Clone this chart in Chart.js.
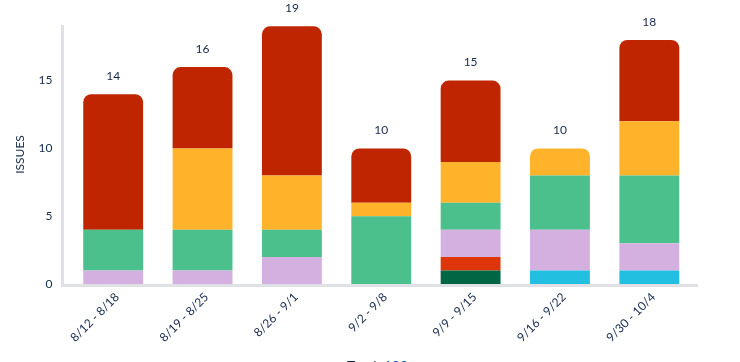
<!DOCTYPE html>
<html>
<head>
<meta charset="utf-8">
<script src="https://cdn.jsdelivr.net/npm/chart.js@4/dist/chart.umd.min.js"></script>
<style>
  html, body { margin: 0; padding: 0; background: #ffffff; }
  #wrap { width: 740px; height: 362px; position: relative; }
</style>
</head>
<body>
<div id="wrap"><canvas id="c" width="740" height="362"></canvas></div>
<script>
const categories = ['8/12 - 8/18', '8/19 - 8/25', '8/26 - 9/1', '9/2 - 9/8', '9/9 - 9/15', '9/16 - 9/22', '9/30 - 10/4'];
const seriesDarkGreen = [0, 0, 0, 0, 1, 0, 0];
const seriesCyan      = [0, 0, 0, 0, 0, 1, 1];
const seriesOrangeRed = [0, 0, 0, 0, 1, 0, 0];
const seriesLavender  = [1, 1, 2, 0, 2, 3, 2];
const seriesGreen     = [3, 3, 2, 5, 2, 4, 5];
const seriesYellow    = [0, 6, 4, 1, 3, 2, 4];
const seriesDarkRed   = [10, 6, 11, 4, 6, 0, 6];
const yTicks = [0, 5, 10, 15];
const yTitle = 'ISSUES';
const totalLabel = 'Total: ';

const FONT = 'Lato, "Noto Sans", sans-serif';
const TEXT = '#172B4D';

const seriesList = [
  { label: 'A', data: seriesDarkGreen, color: '#006644' },
  { label: 'B', data: seriesCyan, color: '#23BFE0' },
  { label: 'C', data: seriesOrangeRed, color: '#DE350B' },
  { label: 'D', data: seriesLavender, color: '#D4B0E1' },
  { label: 'E', data: seriesGreen, color: '#4BBF8C' },
  { label: 'F', data: seriesYellow, color: '#FFB32A' },
  { label: 'G', data: seriesDarkRed, color: '#BF2600' }
];

function isTop(dsIndex, idx) {
  if (!seriesList[dsIndex].data[idx]) return false;
  for (let k = dsIndex + 1; k < seriesList.length; k++) {
    if (seriesList[k].data[idx]) return false;
  }
  return true;
}

const totals = categories.map((_, i) => seriesList.reduce((s, d) => s + d.data[i], 0));
const grandTotal = totals.reduce((a, b) => a + b, 0);

const decor = {
  id: 'decor',
  beforeDatasetsDraw(chart) {
    const { ctx, chartArea } = chart;
    ctx.save();
    ctx.strokeStyle = '#DFE1E6';
    ctx.lineWidth = 3;
    ctx.beginPath();
    ctx.moveTo(62.5, chartArea.top);
    ctx.lineTo(62.5, chartArea.bottom + 3);
    ctx.moveTo(61, chartArea.bottom + 1.5);
    ctx.lineTo(698, chartArea.bottom + 1.5);
    ctx.stroke();
    ctx.restore();
  },
  afterDraw(chart) {
    const { ctx } = chart;
    const xs = chart.scales.x, ys = chart.scales.y;
    ctx.save();
    ctx.font = '12px ' + FONT;
    ctx.fillStyle = TEXT;
    ctx.textAlign = 'center';
    ctx.textBaseline = 'middle';
    totals.forEach((t, i) => {
      ctx.fillText(String(t), xs.getPixelForValue(i), ys.getPixelForValue(t) - 18);
    });
    ctx.font = '14px ' + FONT;
    ctx.textBaseline = 'top';
    ctx.textAlign = 'left';
    const a = totalLabel, b = String(grandTotal);
    const wa = ctx.measureText(a).width;
    const x0 = 347;
    ctx.fillStyle = TEXT;
    ctx.fillText(a, x0, 359);
    ctx.fillStyle = '#0052CC';
    ctx.fillText(b, x0 + wa, 359);
    ctx.restore();
  }
};

new Chart(document.getElementById('c'), {
  type: 'bar',
  data: {
    labels: categories,
    datasets: seriesList.map((s, di) => ({
      label: s.label,
      data: s.data,
      backgroundColor: s.color,
      borderWidth: 0,
      borderSkipped: 'start',
      borderRadius: (c) => isTop(c.datasetIndex, c.dataIndex)
        ? { topLeft: 8, topRight: 8, bottomLeft: 0, bottomRight: 0 } : 0,
      categoryPercentage: 0.67,
      barPercentage: 1.0
    }))
  },
  options: {
    responsive: false,
    animation: false,
    layout: { padding: { left: 13, right: 46, top: 25, bottom: 0 } },
    plugins: { legend: { display: false }, tooltip: { enabled: false } },
    scales: {
      x: {
        stacked: true,
        grid: { display: false, drawTicks: false },
        border: { display: false },
        ticks: {
          minRotation: 45, maxRotation: 45, padding: 6, labelOffset: 4,
          color: TEXT, font: { family: FONT, size: 12 }
        },
        afterFit(scale) { scale.height = 78; }
      },
      y: {
        stacked: true,
        min: 0, max: 19.1,
        afterBuildTicks(scale) { scale.ticks = yTicks.map(v => ({ value: v })); },
        grid: { display: false, drawTicks: false },
        border: { display: false },
        ticks: { color: TEXT, font: { family: FONT, size: 12 }, padding: 16 },
        title: { display: true, text: yTitle, color: TEXT, font: { family: FONT, size: 12 }, padding: 0 },
        afterFit(scale) { scale.width = 55.5; }
      }
    }
  },
  plugins: [decor]
});
</script>
</body>
</html>
